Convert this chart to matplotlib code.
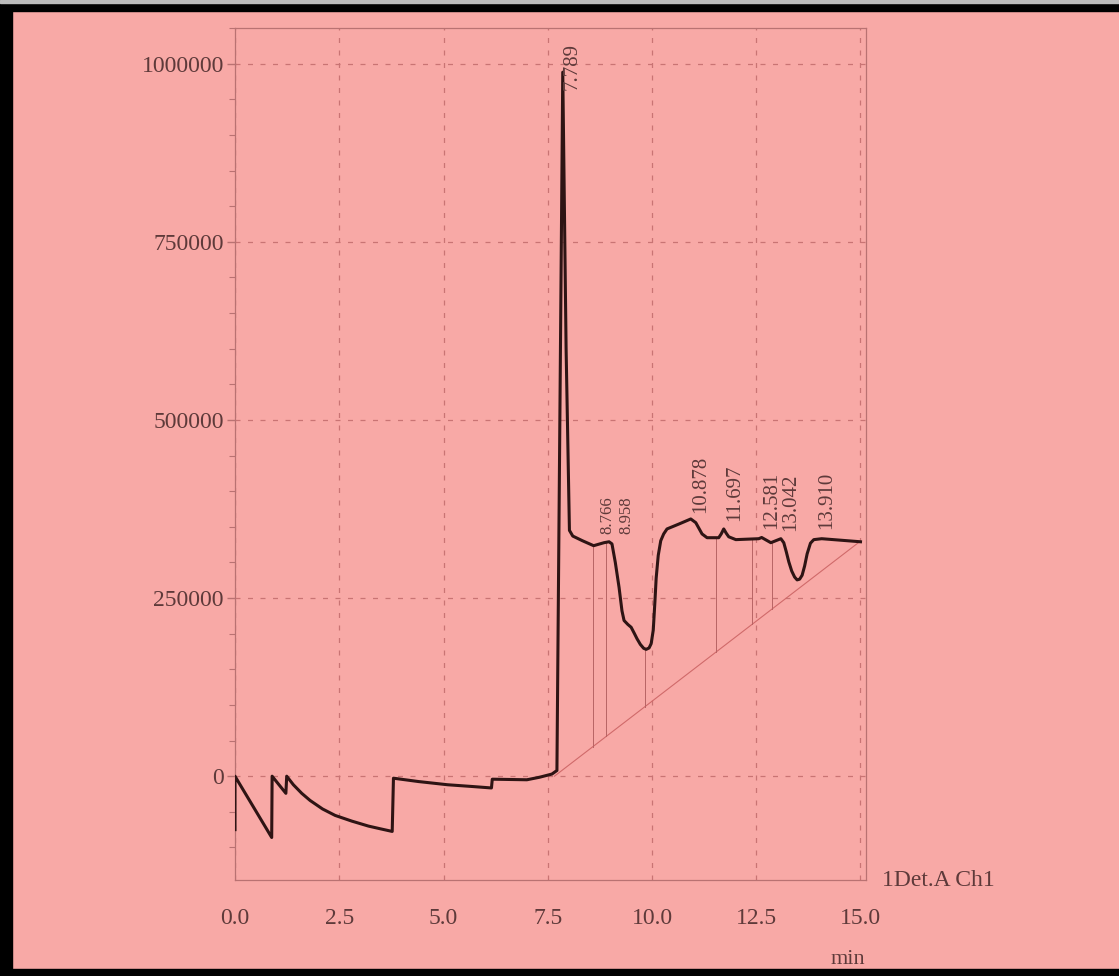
import matplotlib
matplotlib.use("Agg")
import matplotlib.pyplot as plt
import numpy as np
from matplotlib.patches import Rectangle

# ---------------- data ----------------
time_min = [0.0, 0.0, 0.88, 0.89, 1.22, 1.24, 1.4, 1.6, 1.8, 2.1, 2.4, 2.8, 3.2, 3.5, 3.77,
            3.8, 4.4, 5.1, 5.7, 6.15, 6.17, 7.0, 7.3, 7.6, 7.72, 7.86, 7.94, 8.02, 8.1,
            8.33, 8.6, 8.85, 8.97, 9.04, 9.12, 9.21, 9.28, 9.33, 9.42, 9.5, 9.58, 9.64,
            9.72, 9.8, 9.86, 9.93, 9.98, 10.03, 10.07, 10.1, 10.15, 10.21, 10.28, 10.36,
            10.65, 10.93, 11.05, 11.2, 11.32, 11.6, 11.66, 11.72, 11.78, 11.84, 12.01,
            12.56, 12.63, 12.85, 13.09, 13.16, 13.22, 13.28, 13.35, 13.42, 13.48, 13.54,
            13.6, 13.66, 13.72, 13.8, 13.88, 14.07, 15.0]
signal = [-75000, 0, -86000, 0, -24000, 0, -12000, -24000, -34000, -46000, -55000, -63000,
          -70000, -74000, -77500, -2800, -7500, -12000, -14500, -16500, -4200, -5000, -1500,
          3000, 8000, 988000, 600000, 345000, 337000, 330500, 323500, 327700, 329000,
          326000, 300000, 265000, 232000, 218500, 213000, 209000, 200000, 193000, 185000,
          179500, 178000, 180000, 186000, 205000, 245000, 278000, 310000, 330500, 340000,
          347000, 354000, 361000, 355800, 340000, 334700, 334700, 340000, 347000, 341000,
          336000, 332000, 333300, 335000, 327700, 333300, 327700, 315000, 301000, 288000,
          279500, 275500, 276500, 282000, 295000, 312000, 327000, 332000, 333300, 329000]

peak_times = [7.789, 8.766, 8.958, 10.878, 11.697, 12.581, 13.042, 13.910]
peak_labels = ["7.789", "8.766", "8.958", "10.878", "11.697", "12.581", "13.042", "13.910"]
label_base = [963600, 340300, 340300, 369800, 358600, 347300, 344500, 347300]

baseline_t = [7.66, 15.0]
baseline_v = [0, 330000]
drop_times = [8.58, 8.9, 9.83, 11.53, 12.4, 12.88]

x_ticks = [0.0, 2.5, 5.0, 7.5, 10.0, 12.5, 15.0]
x_ticklabels = ["0.0", "2.5", "5.0", "7.5", "10.0", "12.5", "15.0"]
y_ticks = [0, 250000, 500000, 750000, 1000000]
y_ticklabels = ["0", "250000", "500000", "750000", "1000000"]

# ---------------- style ----------------
BG = "#F8A9A6"
TXT = "#5e3a3a"
GRID = "#c97474"
SPINE = "#b97272"
TRACE = "#2e1414"
FONT = ["Liberation Serif", "DejaVu Serif"]

W, H = 1119, 976
fig = plt.figure(figsize=(W / 100, H / 100), dpi=100)
fig.patch.set_facecolor(BG)

left, right, top, bottom = 235, 866, 28, 880
ax = fig.add_axes([left / W, (H - bottom) / H, (right - left) / W, (bottom - top) / H])
ax.set_facecolor(BG)

ax.set_xlim(0, (right - left) / 41.7)
ax.set_ylim((776 - bottom) * 1400.6, (776 - top) * 1400.6)

ax.grid(True, which="major", linestyle=(0, (4, 6)), color=GRID, linewidth=0.9)
ax.set_axisbelow(True)

# baseline and drop lines
ax.plot(baseline_t, baseline_v, color="#d06a6a", lw=0.8, zorder=2)
for t in drop_times:
    top_v = np.interp(t, time_min, signal)
    bot_v = np.interp(t, baseline_t, baseline_v)
    ax.plot([t, t], [bot_v, top_v], color="#b86464", lw=0.7, zorder=2)

ax.plot(time_min, signal, color=TRACE, lw=2.2, solid_joinstyle="round", zorder=3)

label_dx = [0.29, 0.16, 0.43, 0.29, 0.29, 0.29, 0.29, 0.29]
label_fs = [15, 12, 12, 15, 15, 15, 15, 15]
for t, lab, b, dx, fs in zip(peak_times, peak_labels, label_base, label_dx, label_fs):
    ax.text(t + dx, b, lab, rotation=90, ha="center", va="bottom",
            fontsize=fs, family=FONT, color=TXT, zorder=4)

ax.set_xticks(x_ticks)
ax.set_xticklabels(x_ticklabels)
ax.set_yticks(y_ticks)
ax.set_yticklabels(y_ticklabels)
ax.set_yticks(np.arange(-100000, 1050001, 50000), minor=True)
ax.tick_params(axis="x", length=0, pad=20, labelsize=17, labelcolor=TXT)
ax.tick_params(axis="y", which="major", length=6, width=1, color=SPINE, pad=2,
               labelsize=17, labelcolor=TXT)
ax.tick_params(axis="y", which="minor", length=4, width=0.8, color=SPINE)
for lbl in ax.get_xticklabels() + ax.get_yticklabels():
    lbl.set_family(FONT)

for s in ax.spines.values():
    s.set_color(SPINE)
    s.set_linewidth(0.9)

fig.text(848 / W, 1 - 960 / H, "min", ha="center", va="center", fontsize=16,
         family=FONT, color=TXT)
fig.text(882 / W, 1 - 880 / H, "1Det.A Ch1", ha="left", va="center", fontsize=17,
         family=FONT, color=TXT)

# scan border
fig.patches.append(Rectangle((0, 0), 12 / W, 1, transform=fig.transFigure,
                             color="black", zorder=10))
fig.patches.append(Rectangle((0, 1 - 11 / H), 1, 8 / H, transform=fig.transFigure,
                             color="black", zorder=10))
fig.patches.append(Rectangle((0, 1 - 3 / H), 1, 3 / H, transform=fig.transFigure,
                             color="#bbbbbb", zorder=10))
fig.patches.append(Rectangle((0, 0), 1, 7 / H, transform=fig.transFigure,
                             color="black", zorder=10))

fig.savefig("out.png", dpi=100, facecolor=BG)
